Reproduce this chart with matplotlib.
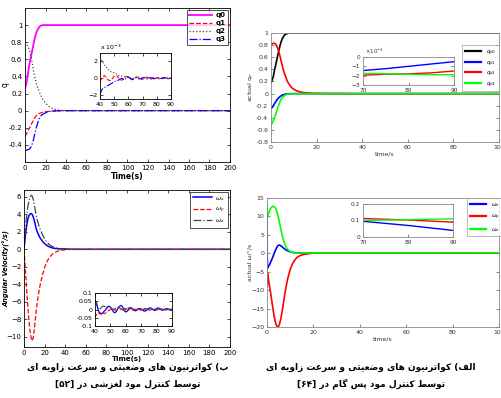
import re
import matplotlib
matplotlib.use("Agg")
import matplotlib.pyplot as plt

# ---------------- data ----------------
# top-left: sliding mode quaternions
t_tl = [0, 1, 2, 3, 4, 5, 6, 7, 8, 9, 10, 11, 12, 13, 14, 15, 16, 17, 18, 20, 22, 24, 26, 28, 30, 33, 36, 40,
        45, 50, 60, 80, 100, 120, 140, 160, 180, 200]
q0_tl = [0.26, 0.30, 0.36, 0.44, 0.52, 0.59, 0.64, 0.70, 0.76, 0.82, 0.87, 0.91, 0.94, 0.96, 0.98, 0.99, 0.995,
         1.0, 1.0, 1.0, 1.0, 1.0, 1.0, 1.0, 1.0, 1.0, 1.0, 1.0, 1.0, 1.0, 1.0, 1.0, 1.0, 1.0, 1.0, 1.0, 1.0, 1.0]
q1_tl = [-0.30, -0.28, -0.26, -0.23, -0.21, -0.19, -0.16, -0.14, -0.12, -0.095, -0.075, -0.06, -0.05, -0.04,
         -0.033, -0.028, -0.024, -0.02, -0.017, -0.012, -0.009, -0.006, -0.004, -0.003, -0.002, -0.001, 0.0, 0.0,
         0.0, 0.0, 0.0, 0.0, 0.0, 0.0, 0.0, 0.0, 0.0, 0.0]
q2_tl = [0.80, 0.79, 0.77, 0.75, 0.72, 0.68, 0.63, 0.56, 0.48, 0.42, 0.37, 0.32, 0.28, 0.25, 0.22, 0.19, 0.165,
         0.14, 0.12, 0.09, 0.065, 0.045, 0.03, 0.02, 0.013, 0.007, 0.003, 0.001, 0.0, 0.0, 0.0, 0.0, 0.0, 0.0, 0.0,
         0.0, 0.0, 0.0]
q3_tl = [-0.46, -0.465, -0.46, -0.455, -0.45, -0.44, -0.42, -0.39, -0.35, -0.30, -0.25, -0.20, -0.16, -0.12,
         -0.09, -0.07, -0.055, -0.045, -0.037, -0.025, -0.017, -0.011, -0.007, -0.005, -0.003, -0.002, -0.001, 0.0,
         0.0, 0.0, 0.0, 0.0, 0.0, 0.0, 0.0, 0.0, 0.0, 0.0]

# top-left inset (x 1e-3)
t_tli = list(range(40, 91))
q1_tli = [-0.4, -0.1, 0.2, 0.3, 0.15, -0.1, -0.25, -0.3, -0.2, 0.0, 0.2, 0.3, 0.25, 0.05, -0.15, -0.25, -0.2, 0.0,
          0.15, 0.2, 0.15, 0.0, -0.15, -0.2, -0.1, 0.05, 0.15, 0.12, 0.0, -0.12, -0.15, -0.05, 0.08, 0.12, 0.05,
          -0.08, -0.12, -0.05, 0.06, 0.1, 0.05, -0.05, -0.1, -0.05, 0.05, 0.08, 0.03, -0.05, -0.08, -0.03, 0.03]
q2_tli = [2.5, 2.2, 1.9, 1.6, 1.4, 1.2, 1.0, 0.85, 0.75, 0.7, 0.65, 0.55, 0.45, 0.35, 0.3, 0.25, 0.2, 0.18, 0.15,
          0.12, 0.1, 0.05, 0.02, 0.0, -0.05, 0.05, 0.1, 0.05, 0.0, -0.05, 0.0, 0.05, 0.05, 0.0, -0.04, -0.02, 0.03,
          0.04, 0.0, -0.03, -0.02, 0.02, 0.03, 0.0, -0.02, -0.02, 0.01, 0.02, 0.0, -0.01, 0.0]
q3_tli = [-2.0, -1.5, -1.25, -1.15, -1.05, -0.95, -0.85, -0.75, -0.65, -0.55, -0.45, -0.35, -0.3, -0.25, -0.15,
          -0.05, -0.1, -0.2, -0.1, 0.05, 0.1, 0.0, -0.1, -0.15, -0.05, 0.05, 0.05, -0.05, -0.1, -0.05, 0.05, 0.05,
          -0.05, -0.1, -0.05, 0.02, 0.05, -0.02, -0.08, -0.05, 0.02, 0.05, 0.0, -0.06, -0.05, 0.02, 0.04, 0.0,
          -0.05, -0.04, 0.02]

# bottom-left: sliding mode angular velocity
t_bl = [0, 1, 2, 3, 4, 5, 6, 7, 8, 9, 10, 11, 12, 13, 14, 15, 16, 18, 20, 22, 24, 26, 28, 30, 33, 36, 40, 45, 50,
        60, 80, 100, 120, 140, 160, 180, 200]
wx_bl = [0.0, 1.2, 2.2, 3.0, 3.6, 3.9, 4.05, 4.1, 4.0, 3.7, 3.3, 2.8, 2.3, 1.95, 1.7, 1.45, 1.25, 0.9, 0.65, 0.45,
         0.32, 0.22, 0.15, 0.1, 0.06, 0.04, 0.05, 0.01, 0.0, 0.0, 0.0, 0.0, 0.0, 0.0, 0.0, 0.0, 0.0]
wy_bl = [0.0, -1.8, -3.6, -5.4, -7.0, -8.4, -9.5, -10.2, -10.5, -10.1, -9.2, -8.0, -6.9, -6.0, -5.2, -4.5, -3.9,
         -2.9, -2.1, -1.5, -1.05, -0.75, -0.5, -0.35, -0.2, -0.12, -0.05, -0.02, 0.0, 0.0, 0.0, 0.0, 0.0, 0.0, 0.0,
         0.0, 0.0]
wz_bl = [0.0, 1.8, 3.2, 4.3, 5.1, 5.6, 6.0, 6.2, 6.1, 5.7, 5.1, 4.4, 3.8, 3.3, 2.9, 2.5, 2.2, 1.65, 1.2, 0.85, 0.6,
         0.42, 0.3, 0.2, 0.12, 0.07, 0.03, 0.01, 0.0, 0.0, 0.0, 0.0, 0.0, 0.0, 0.0, 0.0, 0.0]

# bottom-left inset
t_bli = list(range(40, 91))
wx_bli = [0.05, 0.04, 0.0, -0.02, -0.025, -0.02, -0.01, 0.0, 0.015, 0.02, 0.015, 0.0, -0.015, -0.02, -0.01, 0.01,
          0.02, 0.025, 0.015, -0.005, -0.015, -0.01, 0.005, 0.012, 0.008, -0.003, -0.008, -0.005, 0.003, 0.006,
          0.004, -0.005, -0.01, -0.008, 0.0, 0.008, 0.01, 0.005, -0.004, -0.006, 0.005, 0.01, 0.006, -0.003,
          -0.005, 0.0, 0.004, 0.005, 0.002, -0.002, 0.003]
wy_bli = [-0.05, -0.03, -0.02, -0.025, -0.03, -0.02, -0.025, -0.02, -0.01, -0.005, 0.0, 0.005, 0.0, -0.005, 0.0,
          0.008, 0.01, 0.005, -0.005, -0.008, 0.0, 0.008, 0.01, 0.003, -0.005, -0.006, 0.0, 0.006, 0.005, -0.002,
          -0.005, -0.002, 0.004, 0.005, 0.0, -0.004, -0.003, 0.002, 0.005, 0.002, -0.003, -0.004, 0.0, 0.004,
          0.003, -0.002, -0.004, 0.0, 0.003, 0.002, -0.002]
wz_bli = [0.06, 0.03, 0.005, 0.0, 0.01, 0.02, 0.02, 0.015, 0.01, 0.015, 0.012, 0.005, 0.0, 0.005, 0.01, 0.008,
          0.005, 0.0, 0.002, 0.006, 0.005, 0.0, -0.002, 0.003, 0.005, 0.002, -0.002, 0.0, 0.004, 0.003, 0.0,
          -0.002, 0.002, 0.003, 0.001, -0.001, 0.001, 0.003, 0.001, -0.001, 0.0, 0.002, 0.002, 0.0, -0.001, 0.001,
          0.002, 0.0, -0.001, 0.001, 0.001]

# top-right: backstepping quaternions
t_tr = [0, 0.5, 1, 1.5, 2, 2.5, 3, 3.5, 4, 4.5, 5, 5.5, 6, 6.5, 7, 7.5, 8, 9, 10, 11, 12, 13, 14, 15, 16, 18, 20,
        25, 30, 40, 60, 80, 100]
qe0_tr = [0.18, 0.22, 0.28, 0.38, 0.46, 0.55, 0.64, 0.72, 0.80, 0.86, 0.91, 0.94, 0.97, 0.98, 0.99, 0.995, 1.0,
          1.0, 1.0, 1.0, 1.0, 1.0, 1.0, 1.0, 1.0, 1.0, 1.0, 1.0, 1.0, 1.0, 1.0, 1.0, 1.0]
qe1_tr = [-0.25, -0.23, -0.20, -0.17, -0.14, -0.11, -0.085, -0.065, -0.05, -0.035, -0.025, -0.018, -0.012,
          -0.008, -0.006, -0.004, -0.003, -0.002, -0.0015, -0.0015, -0.0015, -0.0015, -0.0015, -0.0015, -0.0015,
          -0.0015, -0.0015, -0.0015, -0.0015, -0.0015, -0.0015, -0.001, -0.0005]
qe2_tr = [0.80, 0.82, 0.83, 0.83, 0.82, 0.79, 0.74, 0.68, 0.61, 0.53, 0.45, 0.38, 0.32, 0.27, 0.22, 0.18, 0.15,
          0.10, 0.07, 0.05, 0.035, 0.025, 0.018, 0.013, 0.01, 0.005, 0.003, 0.001, 0.0, -0.002, -0.002, -0.0018,
          -0.0015]
qe3_tr = [-0.52, -0.49, -0.45, -0.40, -0.35, -0.29, -0.23, -0.18, -0.13, -0.09, -0.065, -0.045, -0.03, -0.02,
          -0.013, -0.009, -0.006, -0.004, -0.003, -0.002, -0.002, -0.002, -0.002, -0.002, -0.002, -0.002, -0.002,
          -0.002, -0.002, -0.002, -0.0018, -0.0018, -0.0019]

# top-right inset (x 1e-3)
t_tri = [70, 75, 80, 85, 90]
qe1_tri = [-1.45, -1.25, -1.0, -0.75, -0.5]
qe2_tri = [-1.95, -1.85, -1.8, -1.7, -1.5]
qe3_tri = [-1.75, -1.8, -1.85, -1.9, -1.9]

# bottom-right: backstepping angular velocity
t_br = [0, 0.1, 0.25, 0.6, 1, 1.5, 2, 2.5, 3, 3.5, 4, 4.5, 5, 5.5, 6, 6.5, 7, 7.5, 8, 8.5, 9, 10, 11, 12, 13, 14,
        15, 16, 18, 20, 25, 30, 40, 60, 70, 80, 90, 100]
wx_br = [9.0, -1.0, -4.0, -3.6, -3.2, -2.5, -1.8, -1.0, -0.2, 0.6, 1.3, 1.9, 2.2, 2.2, 2.0, 1.8, 1.5, 1.2, 1.0,
         0.8, 0.65, 0.4, 0.25, 0.15, 0.12, 0.12, 0.12, 0.12, 0.12, 0.12, 0.11, 0.11, 0.1, 0.1, 0.095, 0.07, 0.04,
         0.02]
wy_br = [-4.5, -9.0, -5.5, -7.0, -8.5, -10.5, -12.6, -14.8, -16.8, -18.4, -19.5, -20.0, -19.8, -19.0, -17.6,
         -15.8, -13.8, -11.8, -9.9, -8.2, -6.7, -4.4, -2.8, -1.8, -1.1, -0.7, -0.45, -0.3, -0.1, 0.05, 0.1, 0.11,
         0.11, 0.112, 0.112, 0.103, 0.09, 0.085]
wz_br = [13.0, 9.5, 9.8, 10.6, 11.4, 12.1, 12.5, 12.7, 12.7, 12.4, 11.8, 10.8, 9.5, 8.0, 6.4, 5.0, 3.8, 2.8, 2.0,
         1.4, 1.0, 0.5, 0.25, 0.12, 0.1, 0.1, 0.1, 0.1, 0.1, 0.1, 0.1, 0.1, 0.1, 0.1, 0.1, 0.105, 0.11, 0.11]

# bottom-right inset
t_bri = [70, 80, 90]
wx_bri = [0.095, 0.07, 0.04]
wy_bri = [0.112, 0.103, 0.09]
wz_bri = [0.1, 0.105, 0.11]

caption_left = ["ب) کواترنیون های وضعیتی و سرعت زاویه ای", "توسط کنترل مود لغزشی در [۵۲]"]
caption_right = ["الف) کواترنیون های وضعیتی و سرعت زاویه ای", "توسط کنترل مود پس گام در [۶۴]"]

# ---------------- Persian shaping (presentation forms + visual order) ----------------
FORMS = {
    'ا': ('\uFE8D', '\uFE8E', None, None),
    'ب': ('\uFE8F', '\uFE90', '\uFE91', '\uFE92'),
    'پ': ('\uFB56', '\uFB57', '\uFB58', '\uFB59'),
    'ت': ('\uFE95', '\uFE96', '\uFE97', '\uFE98'),
    'د': ('\uFEA9', '\uFEAA', None, None),
    'ر': ('\uFEAD', '\uFEAE', None, None),
    'ز': ('\uFEAF', '\uFEB0', None, None),
    'س': ('\uFEB1', '\uFEB2', '\uFEB3', '\uFEB4'),
    'ش': ('\uFEB5', '\uFEB6', '\uFEB7', '\uFEB8'),
    'ض': ('\uFEBD', '\uFEBE', '\uFEBF', '\uFEC0'),
    'ط': ('\uFEC1', '\uFEC2', '\uFEC3', '\uFEC4'),
    'ع': ('\uFEC9', '\uFECA', '\uFECB', '\uFECC'),
    'غ': ('\uFECD', '\uFECE', '\uFECF', '\uFED0'),
    'ف': ('\uFED1', '\uFED2', '\uFED3', '\uFED4'),
    'ک': ('\uFB8E', '\uFB8F', '\uFB90', '\uFB91'),
    'گ': ('\uFB92', '\uFB93', '\uFB94', '\uFB95'),
    'ل': ('\uFEDD', '\uFEDE', '\uFEDF', '\uFEE0'),
    'م': ('\uFEE1', '\uFEE2', '\uFEE3', '\uFEE4'),
    'ن': ('\uFEE5', '\uFEE6', '\uFEE7', '\uFEE8'),
    'ه': ('\uFEE9', '\uFEEA', '\uFEEB', '\uFEEC'),
    'و': ('\uFEED', '\uFEEE', None, None),
    'ی': ('\uFBFC', '\uFBFD', '\uFBFE', '\uFBFF'),
}


def shape(s):
    out = []
    for i, ch in enumerate(s):
        if ch not in FORMS:
            out.append(ch)
            continue
        iso, fin, ini, med = FORMS[ch]
        prev = s[i - 1] if i > 0 else None
        nxt = s[i + 1] if i + 1 < len(s) else None
        jp = prev in FORMS and FORMS[prev][2] is not None
        jn = (nxt in FORMS) and ini is not None
        if jp and jn:
            out.append(med)
        elif jp:
            out.append(fin)
        elif jn:
            out.append(ini)
        else:
            out.append(iso)
    return ''.join(out)


def visual(s):
    r = shape(s)[::-1]
    mirror = {'(': ')', ')': '(', '[': ']', ']': '['}
    r = ''.join(mirror.get(c, c) for c in r)
    r = re.sub(r'[0-9\u06F0-\u06F9]+', lambda m: m.group(0)[::-1], r)
    return r


# ---------------- figure ----------------
plt.rcParams['font.family'] = ['DejaVu Sans']
W, H = 502, 398
fig = plt.figure(figsize=(W / 100, H / 100), dpi=100)


def rect(l, t, r, b):
    return [l / W, 1 - b / H, (r - l) / W, (b - t) / H]


def style_old(ax, fs=5):
    ax.tick_params(direction='in', length=2, width=0.5, labelsize=fs, top=True, right=True, pad=2)
    for s in ax.spines.values():
        s.set_linewidth(0.6)


def style_new(ax, fs=5):
    ax.tick_params(direction='in', length=2, width=0.5, labelsize=fs, top=False, right=True, pad=2,
                   colors='#555555', labelcolor='#333333')
    for s in ax.spines.values():
        s.set_linewidth(0.6)
        s.set_color('#888888')


# ---- top-left ----
ax1 = fig.add_axes(rect(25, 8, 230, 162))
ax1.plot(t_tl, q0_tl, color='#FF00FF', lw=1.3, label='q0')
ax1.plot(t_tl, q1_tl, color='#FF0000', lw=0.9, ls='--', label='q1')
ax1.plot(t_tl, q2_tl, color='#444444', lw=0.9, ls=':', label='q2')
ax1.plot(t_tl, q3_tl, color='#0000FF', lw=0.9, ls='-.', label='q3')
ax1.set_xlim(0, 200)
ax1.set_ylim(-0.6, 1.2)
ax1.set_xticks(range(0, 201, 20))
ax1.set_yticks([-0.4, -0.2, 0, 0.2, 0.4, 0.6, 0.8, 1])
ax1.set_yticklabels(['-0.4', '-0.2', '0', '0.2', '0.4', '0.6', '0.8', '1'])
style_old(ax1)
ax1.set_xlabel('Time(s)', fontsize=5.5, fontweight='bold', labelpad=1)
ax1.set_ylabel('q', fontsize=5.5)
ax1.yaxis.set_label_coords(-0.075, 0.5)
lg = ax1.legend(loc='upper right', frameon=True, fancybox=False, borderaxespad=0.25,
                handlelength=3.2, handletextpad=0.6, labelspacing=0.3, borderpad=0.35,
                prop={'weight': 'bold', 'size': 5})
lg.get_frame().set_edgecolor('black')
lg.get_frame().set_linewidth(0.6)

ax1i = fig.add_axes(rect(100, 53, 171, 99))
ax1i.plot(t_tli, q1_tli, color='#FF0000', lw=0.8, ls='--')
ax1i.plot(t_tli, q2_tli, color='#444444', lw=0.8, ls=':')
ax1i.plot(t_tli, q3_tli, color='#0000FF', lw=0.8, ls='-.')
ax1i.set_xlim(40, 90)
ax1i.set_ylim(-2.5, 3)
ax1i.set_xticks(range(40, 91, 10))
ax1i.set_yticks([-2, 0, 2])
style_old(ax1i, fs=4.5)
ax1i.text(0.0, 1.03, r'x 10$^{-3}$', transform=ax1i.transAxes, fontsize=4.5, ha='left', va='bottom')

# ---- bottom-left ----
ax2 = fig.add_axes(rect(24, 190, 230, 347))
ax2.plot(t_bl, wx_bl, color='#0000FF', lw=1.1, ls='-', label=r'$\omega_x$')
ax2.plot(t_bl, wy_bl, color='#FF0000', lw=0.9, ls='--', label=r'$\omega_y$')
ax2.plot(t_bl, wz_bl, color='#444444', lw=0.9, ls='-.', label=r'$\omega_z$')
ax2.set_xlim(0, 200)
ax2.set_ylim(-11.2, 6.8)
ax2.set_xticks(range(0, 201, 20))
ax2.set_yticks(range(-10, 7, 2))
style_old(ax2)
ax2.set_xlabel('Time(s)', fontsize=5, fontweight='bold', labelpad=0.3)
ax2.set_ylabel('Angular Velocity(°/s)', fontsize=4.8, fontweight='bold', style='italic')
ax2.yaxis.set_label_coords(-0.068, 0.5)
lg2 = ax2.legend(loc='upper right', fontsize=4.5, frameon=True, fancybox=False, borderaxespad=0.25,
                 handlelength=3.0, handletextpad=0.6, labelspacing=0.45, borderpad=0.5)
lg2.get_frame().set_edgecolor('black')
lg2.get_frame().set_linewidth(0.6)

ax2i = fig.add_axes(rect(95, 293, 172, 326))
ax2i.plot(t_bli, wx_bli, color='#0000FF', lw=0.9, ls='-')
ax2i.plot(t_bli, wy_bli, color='#FF0000', lw=0.8, ls='--')
ax2i.plot(t_bli, wz_bli, color='#444444', lw=0.8, ls='-.')
ax2i.set_xlim(40, 90)
ax2i.set_ylim(-0.1, 0.1)
ax2i.set_xticks(range(40, 91, 10))
ax2i.set_yticks([-0.1, -0.05, 0, 0.05, 0.1])
ax2i.set_yticklabels(['-0.1', '-0.05', '0', '0.05', '0.1'])
style_old(ax2i, fs=4.5)

# ---- top-right ----
ax3 = fig.add_axes(rect(271, 33, 499, 142))
ax3.plot(t_tr, qe0_tr, color='black', lw=1.2, label=r'$q_{e0}$')
ax3.plot(t_tr, qe1_tr, color='#0000FF', lw=1.2, label=r'$q_{e1}$')
ax3.plot(t_tr, qe2_tr, color='#FF0000', lw=1.2, label=r'$q_{e2}$')
ax3.plot(t_tr, qe3_tr, color='#00FF00', lw=1.2, label=r'$q_{e3}$')
ax3.set_xlim(0, 100)
ax3.set_ylim(-0.8, 1)
ax3.set_xticks(range(0, 101, 20))
ax3.set_yticks([-0.8, -0.6, -0.4, -0.2, 0, 0.2, 0.4, 0.6, 0.8, 1])
ax3.set_yticklabels(['-0.8', '-0.6', '-0.4', '-0.2', '0', '0.2', '0.4', '0.6', '0.8', '1'])
style_new(ax3, fs=4.5)
ax3.set_xlabel('time/s', fontsize=4.5, color='#333333', labelpad=1)
ax3.set_ylabel(r'actual q$_e$', fontsize=4.5, color='#333333')
ax3.yaxis.set_label_coords(-0.07, 0.5)
lg3 = ax3.legend(loc='upper left', bbox_to_anchor=(462 / W, 1 - 45 / H), bbox_transform=fig.transFigure,
                 fontsize=4, frameon=True, fancybox=False, borderaxespad=0, handlelength=3.0,
                 labelspacing=0.5, borderpad=0.5)
lg3.get_frame().set_edgecolor('#888888')
lg3.get_frame().set_linewidth(0.5)
for l in lg3.get_lines():
    l.set_linewidth(1.6)

ax3i = fig.add_axes(rect(363, 57, 454, 85))
ax3i.plot(t_tri, qe1_tri, color='#0000FF', lw=1.0)
ax3i.plot(t_tri, qe2_tri, color='#FF0000', lw=1.0)
ax3i.plot(t_tri, qe3_tri, color='#00FF00', lw=1.0)
ax3i.set_xlim(70, 90)
ax3i.set_ylim(-3, 0)
ax3i.set_xticks([70, 80, 90])
ax3i.set_yticks([-3, -2, -1, 0])
style_new(ax3i, fs=4.2)
ax3i.text(0.02, 1.02, r'$\times$10$^{-3}$', transform=ax3i.transAxes, fontsize=4, ha='left', va='bottom',
          color='#333333')

# ---- bottom-right ----
ax4 = fig.add_axes(rect(267, 198, 499, 327))
ax4.plot(t_br, wx_br, color='#0000FF', lw=1.2, label=r'$\omega_x$')
ax4.plot(t_br, wy_br, color='#FF0000', lw=1.2, label=r'$\omega_y$')
ax4.plot(t_br, wz_br, color='#00FF00', lw=1.2, label=r'$\omega_z$')
ax4.set_xlim(0, 100)
ax4.set_ylim(-20, 15)
ax4.set_xticks(range(0, 101, 20))
ax4.set_yticks(range(-20, 16, 5))
style_new(ax4, fs=4.5)
ax4.set_xlabel('time/s', fontsize=4.5, color='#333333', labelpad=1)
ax4.set_ylabel('actual ω/°/s', fontsize=4.5, color='#333333')
ax4.yaxis.set_label_coords(-0.062, 0.5)
lg4 = ax4.legend(loc='upper left', bbox_to_anchor=(467 / W, 1 - 198 / H), bbox_transform=fig.transFigure,
                 fontsize=4, frameon=True, fancybox=False, borderaxespad=0, handlelength=3.0,
                 labelspacing=0.7, borderpad=0.5)
lg4.get_frame().set_edgecolor('#888888')
lg4.get_frame().set_linewidth(0.5)
for l in lg4.get_lines():
    l.set_linewidth(1.6)

ax4i = fig.add_axes(rect(363, 204, 453, 237))
ax4i.plot(t_bri, wx_bri, color='#0000FF', lw=1.0)
ax4i.plot(t_bri, wy_bri, color='#FF0000', lw=1.0)
ax4i.plot(t_bri, wz_bri, color='#00FF00', lw=1.0)
ax4i.set_xlim(70, 90)
ax4i.set_ylim(0, 0.2)
ax4i.set_xticks([70, 80, 90])
ax4i.set_yticks([0, 0.1, 0.2])
ax4i.set_yticklabels(['0', '0.1', '0.2'])
style_new(ax4i, fs=4.2)

# ---- captions ----
for (cx, lines) in [(128, caption_left), (371, caption_right)]:
    for k, line in enumerate(lines):
        fig.text(cx / W, 1 - (367 + 17 * k) / H, visual(line), ha='center', va='center',
                 fontsize=6.5, fontweight='bold', family=['DejaVu Sans'])

fig.savefig('out.png', dpi=100)
